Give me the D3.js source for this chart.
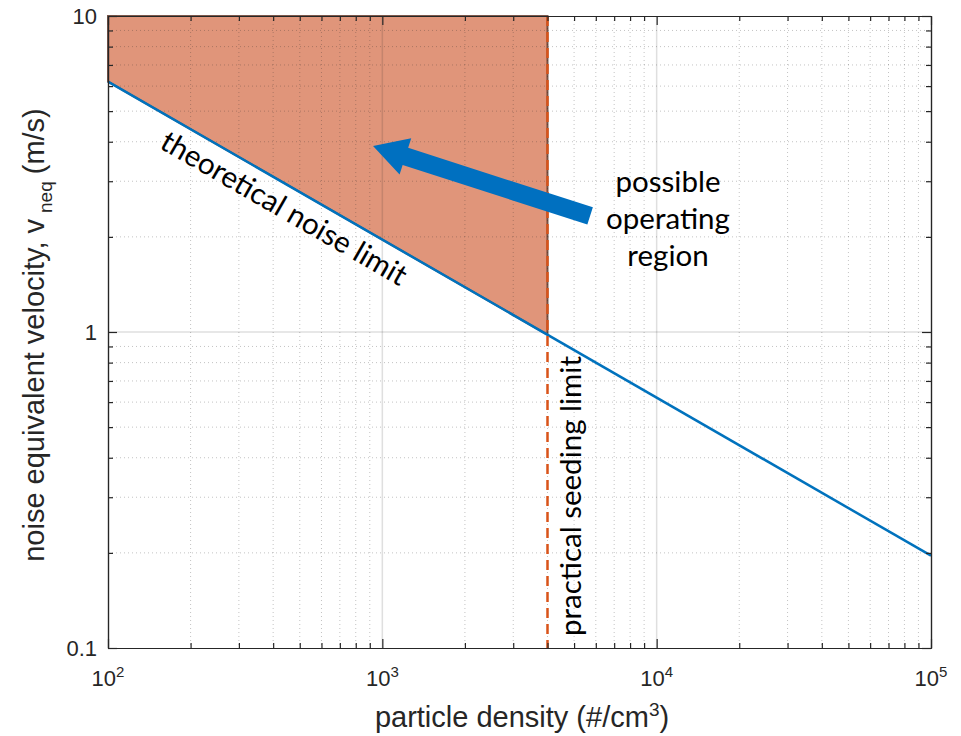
<!DOCTYPE html>
<html>
<head>
<meta charset="utf-8">
<script src="https://cdn.jsdelivr.net/npm/d3@7"></script>
<style>
  body { margin: 0; background: #fff; }
  svg { display: block; }
</style>
</head>
<body>
<svg id="chart" width="961" height="736"></svg>
<script>
// Noise-limited velocity versus particle seeding density
const density = [1e2, 1e5];
const noiseVelocity = [6.2, 0.196];
const seedingLimit = 4000;
const regionDensity = [1e2, 4000, 4000, 1e2];
const regionVelocity = [6.2, 0.98, 10, 10];
const xMajorTicks = [1e2, 1e3, 1e4, 1e5];
const xTickExponents = ["2", "3", "4", "5"];
const yMajorTicks = [0.1, 1, 10];
const yTickLabels = ["0.1", "1", "10"];
const arrowTail = [5720, 2.33];
const arrowTip = [925, 3.88];
const regionLabelLines = ["possible", "operating", "region"];

const svg = d3.select("#chart");
const m = { left: 108, right: 30, top: 16, bottom: 88 };
const W = 961, H = 736;
const pw = W - m.left - m.right, ph = H - m.top - m.bottom;

const x = d3.scaleLog().domain([1e2, 1e5]).range([0, pw]);
const y = d3.scaleLog().domain([0.1, 10]).range([ph, 0]);

const g = svg.append("g").attr("transform", `translate(${m.left},${m.top})`);

// minor values for the log grid and ticks
const minorX = [], minorY = [];
[1e2, 1e3, 1e4].forEach(d => { for (let k = 2; k <= 9; k++) minorX.push(d * k); });
[0.1, 1].forEach(d => { for (let k = 2; k <= 9; k++) minorY.push(d * k); });

// operating region fill
const region = regionDensity.map((d, i) => [x(d), y(regionVelocity[i])]);
g.append("path")
  .attr("d", d3.line()(region) + "Z")
  .attr("fill", "#e0957a")
  .attr("stroke", "#5b3020")
  .attr("stroke-width", 2)
  .attr("stroke-opacity", 0.8);

// grid (drawn above the fill)
const grid = g.append("g");
grid.selectAll(".gxm").data(minorX).join("line")
  .attr("x1", d => x(d)).attr("x2", d => x(d)).attr("y1", 0).attr("y2", ph)
  .attr("stroke", "rgba(38,38,38,0.28)").attr("stroke-dasharray", "1,3");
grid.selectAll(".gym").data(minorY).join("line")
  .attr("y1", d => y(d)).attr("y2", d => y(d)).attr("x1", 0).attr("x2", pw)
  .attr("stroke", "rgba(38,38,38,0.28)").attr("stroke-dasharray", "1,3");
grid.selectAll(".gxM").data(xMajorTicks.slice(1, -1)).join("line")
  .attr("x1", d => x(d)).attr("x2", d => x(d)).attr("y1", 0).attr("y2", ph)
  .attr("stroke", "rgba(38,38,38,0.15)").attr("stroke-width", 1.5);
grid.selectAll(".gyM").data(yMajorTicks.slice(1, -1)).join("line")
  .attr("y1", d => y(d)).attr("y2", d => y(d)).attr("x1", 0).attr("x2", pw)
  .attr("stroke", "rgba(38,38,38,0.15)").attr("stroke-width", 1.5);

// theoretical noise limit
g.append("path")
  .datum(density.map((d, i) => [d, noiseVelocity[i]]))
  .attr("d", d3.line().x(d => x(d[0])).y(d => y(d[1])))
  .attr("fill", "none")
  .attr("stroke", "#0072bd")
  .attr("stroke-width", 2.5);

// practical seeding limit
g.append("line")
  .attr("x1", x(seedingLimit)).attr("x2", x(seedingLimit))
  .attr("y1", 0).attr("y2", ph)
  .attr("stroke", "#d95319")
  .attr("stroke-width", 2.5)
  .attr("stroke-dasharray", "10,6");

// axes with inward ticks
function styleAxis(sel) {
  sel.selectAll("path.domain").attr("stroke", "#262626").attr("stroke-width", 1.2);
  sel.selectAll(".tick line").attr("stroke", "#262626").attr("stroke-width", 1.2);
  sel.selectAll(".tick text").remove();
}
const maj = 9, mnr = 5;
g.append("g").attr("transform", `translate(0,${ph})`)
  .call(d3.axisBottom(x).tickValues(xMajorTicks).tickSizeInner(-maj).tickSizeOuter(0).tickFormat(""))
  .call(styleAxis);
g.append("g").attr("transform", `translate(0,${ph})`)
  .call(d3.axisBottom(x).tickValues(minorX).tickSizeInner(-mnr).tickSizeOuter(0).tickFormat(""))
  .call(styleAxis);
g.append("g")
  .call(d3.axisTop(x).tickValues(xMajorTicks).tickSizeInner(-maj).tickSizeOuter(0).tickFormat(""))
  .call(styleAxis);
g.append("g")
  .call(d3.axisTop(x).tickValues(minorX).tickSizeInner(-mnr).tickSizeOuter(0).tickFormat(""))
  .call(styleAxis);
g.append("g")
  .call(d3.axisLeft(y).tickValues(yMajorTicks).tickSizeInner(-maj).tickSizeOuter(0).tickFormat(""))
  .call(styleAxis);
g.append("g")
  .call(d3.axisLeft(y).tickValues(minorY).tickSizeInner(-mnr).tickSizeOuter(0).tickFormat(""))
  .call(styleAxis);
g.append("g").attr("transform", `translate(${pw},0)`)
  .call(d3.axisRight(y).tickValues(yMajorTicks).tickSizeInner(-maj).tickSizeOuter(0).tickFormat(""))
  .call(styleAxis);
g.append("g").attr("transform", `translate(${pw},0)`)
  .call(d3.axisRight(y).tickValues(minorY).tickSizeInner(-mnr).tickSizeOuter(0).tickFormat(""))
  .call(styleAxis);

const axisFont = "'Liberation Sans', Arial, Helvetica, sans-serif";

// tick labels
xMajorTicks.forEach((d, i) => {
  const t = g.append("text")
    .attr("x", x(d)).attr("y", ph + 38)
    .attr("text-anchor", "middle")
    .attr("font-family", axisFont).attr("font-size", 22).attr("fill", "#262626");
  t.append("tspan").text("10");
  t.append("tspan").attr("dy", -9).attr("font-size", 15).text(xTickExponents[i]);
});
yMajorTicks.forEach((d, i) => {
  g.append("text")
    .attr("x", -11).attr("y", y(d)).attr("dy", "0.36em")
    .attr("text-anchor", "end")
    .attr("font-family", axisFont).attr("font-size", 22).attr("fill", "#262626")
    .text(yTickLabels[i]);
});

// axis titles, centred from their measured lengths
const xl = svg.append("text")
  .attr("y", 727)
  .attr("font-family", axisFont).attr("font-size", 29).attr("fill", "#262626");
xl.append("tspan").text("particle density (#/cm");
xl.append("tspan").attr("dy", -11).attr("font-size", 19).text("3");
xl.append("tspan").attr("dy", 11).text(")");
const xlw = xl.node().getBBox().width;
xl.attr("x", 522 - xlw / 2);

const ylg = svg.append("g");
const yl = ylg.append("text")
  .attr("font-family", axisFont).attr("font-size", 29).attr("fill", "#262626");
yl.append("tspan").text("noise equivalent velocity, v");
yl.append("tspan").attr("dy", 8).attr("dx", 6).attr("font-size", 19).text("neq");
yl.append("tspan").attr("dy", -8).attr("dx", 7).text("(m/s)");
const ylw = yl.node().getBBox().width;
ylg.attr("transform", `translate(44,${335 + ylw / 2}) rotate(-90)`);

// annotations
const noteFont = "Lato, 'Open Sans', sans-serif";
const noteSize = 29.5;

// arrow pointing into the operating region
const [tx, ty] = [x(arrowTail[0]), y(arrowTail[1])];
const [hx, hy] = [x(arrowTip[0]), y(arrowTip[1])];
const ang = Math.atan2(hy - ty, hx - tx);
const len = Math.hypot(hx - tx, hy - ty);
const shaftW = 9, headW = 19, headL = 34;
const arrowPts = [
  [0, -shaftW], [len - headL, -shaftW], [len - headL, -headW], [len, 0],
  [len - headL, headW], [len - headL, shaftW], [0, shaftW]
];
g.append("path")
  .attr("transform", `translate(${tx},${ty}) rotate(${ang * 180 / Math.PI})`)
  .attr("d", d3.line()(arrowPts) + "Z")
  .attr("fill", "#0070c0");

g.selectAll(".regionLabel").data(regionLabelLines).join("text")
  .attr("x", 668 - m.left)
  .attr("y", (d, i) => 192 - m.top + i * 37)
  .attr("text-anchor", "middle")
  .attr("font-family", noteFont).attr("font-size", noteSize).attr("fill", "#000")
  .text(d => d);

// label along the noise-limit line
const lineAng = Math.atan2(y(noiseVelocity[1]) - y(noiseVelocity[0]), x(density[1]) - x(density[0])) * 180 / Math.PI;
const labelN = 480;
const slope = Math.log(noiseVelocity[1] / noiseVelocity[0]) / Math.log(density[1] / density[0]);
const labelV = noiseVelocity[0] * Math.pow(labelN / density[0], slope);
g.append("text")
  .attr("transform", `translate(${x(labelN)},${y(labelV)}) rotate(${lineAng})`)
  .attr("y", 32)
  .attr("text-anchor", "middle")
  .attr("font-family", noteFont).attr("font-size", noteSize).attr("fill", "#000")
  .text("theoretical noise limit");

// label beside the seeding limit
g.append("text")
  .attr("transform", `translate(${x(seedingLimit) + 34},${496 - m.top}) rotate(-90)`)
  .attr("text-anchor", "middle")
  .attr("font-family", noteFont).attr("font-size", noteSize).attr("fill", "#000")
  .text("practical seeding limit");
</script>
</body>
</html>
